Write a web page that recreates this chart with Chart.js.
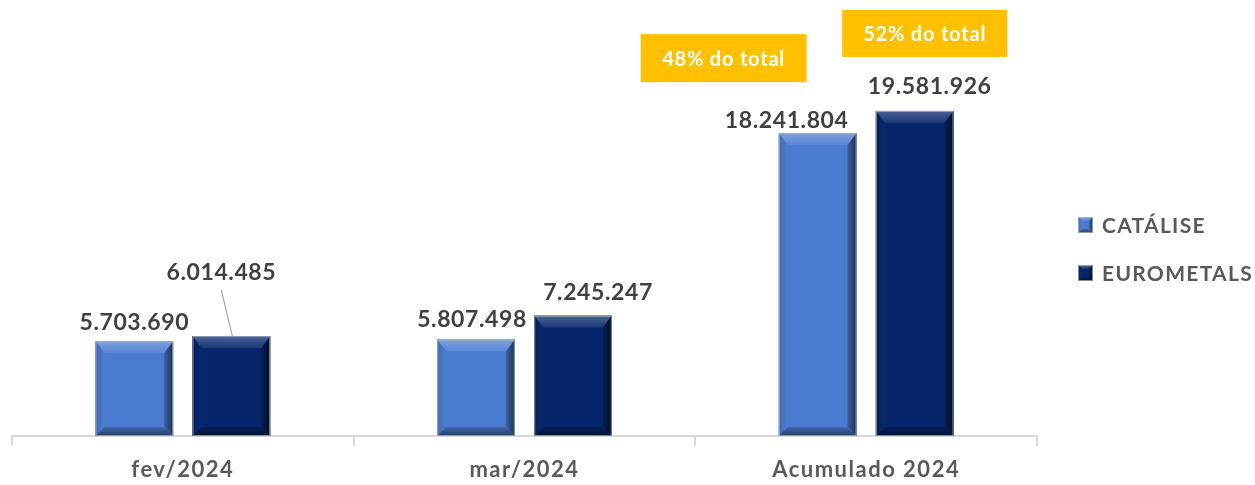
<!DOCTYPE html>
<html><head><meta charset="utf-8">
<style>html,body{margin:0;padding:0;background:#fff}#wrap{width:1255px;height:485px}</style>
<script src="https://cdn.jsdelivr.net/npm/chart.js@4.4.1/dist/chart.umd.min.js"></script>
</head><body><div id="wrap"><canvas id="c" width="1255" height="485"></canvas></div>
<script>
const categories = ['fev/2024', 'mar/2024', 'Acumulado 2024'];
const seriesNames = ['CATÁLISE', 'EUROMETALS'];
const catalise = [5703690, 5807498, 18241804];
const eurometals = [6014485, 7245247, 19581926];
const shareLabels = ['48% do total', '52% do total'];
const seriesColors = ['#4A7BD0', '#06256A'];

function fmt(v){ return v.toLocaleString('de-DE'); }

// label placement: [dx from bar center, gap above bar top, leader line?]
const labelPlacement = [
  [[0,19,false],[-10,64,true]],
  [[-4,20,false],[25,23,false]],
  [[-31,13,false],[15,24,false]]
];

function shade(hex, amt){
  const n = parseInt(hex.slice(1),16);
  let r=(n>>16)&255,g=(n>>8)&255,b=n&255;
  if (amt>=0){ r=r+(255-r)*amt; g=g+(255-g)*amt; b=b+(255-b)*amt; }
  else { r=r*(1+amt); g=g*(1+amt); b=b*(1+amt); }
  return 'rgb('+Math.round(r)+','+Math.round(g)+','+Math.round(b)+')';
}

function bevel(ctx, x0, y0, x1, y1, color, bt, bs){
  ctx.save();
  ctx.fillStyle = color; ctx.fillRect(x0,y0,x1-x0,y1-y0);
  let g = ctx.createLinearGradient(0,y0,0,y0+bt);
  g.addColorStop(0, shade(color,0.28)); g.addColorStop(1, shade(color,0.08));
  ctx.fillStyle=g; ctx.beginPath(); ctx.moveTo(x0,y0); ctx.lineTo(x1,y0); ctx.lineTo(x1-bs,y0+bt); ctx.lineTo(x0+bs,y0+bt); ctx.closePath(); ctx.fill();
  g = ctx.createLinearGradient(x0,0,x0+bs,0);
  g.addColorStop(0, shade(color,-0.15)); g.addColorStop(1, shade(color,0.02));
  ctx.fillStyle=g; ctx.beginPath(); ctx.moveTo(x0,y0); ctx.lineTo(x0+bs,y0+bt); ctx.lineTo(x0+bs,y1-bs); ctx.lineTo(x0,y1); ctx.closePath(); ctx.fill();
  g = ctx.createLinearGradient(x1-bs,0,x1,0);
  g.addColorStop(0, shade(color,-0.2)); g.addColorStop(1, shade(color,-0.6));
  ctx.fillStyle=g; ctx.beginPath(); ctx.moveTo(x1,y0); ctx.lineTo(x1,y1); ctx.lineTo(x1-bs,y1-bs); ctx.lineTo(x1-bs,y0+bt); ctx.closePath(); ctx.fill();
  g = ctx.createLinearGradient(0,y1-bs,0,y1);
  g.addColorStop(0, shade(color,-0.15)); g.addColorStop(1, shade(color,-0.5));
  ctx.fillStyle=g; ctx.beginPath(); ctx.moveTo(x0,y1); ctx.lineTo(x1,y1); ctx.lineTo(x1-bs,y1-bs); ctx.lineTo(x0+bs,y1-bs); ctx.closePath(); ctx.fill();
  ctx.strokeStyle='rgba(190,190,190,0.7)'; ctx.lineWidth=1; ctx.strokeRect(x0+0.5,y0+0.5,x1-x0-1,y1-y0-1);
  ctx.restore();
}

const spacingPlugin = {
  id:'spacing',
  beforeDraw(chart){ chart.ctx.letterSpacing = '1.5px'; },
  beforeDatasetsDraw(chart){ chart.ctx.letterSpacing = '0px'; }
};

const decorPlugin = {
  id:'decor',
  afterDatasetsDraw(chart){
    const ctx = chart.ctx;
    chart.data.datasets.forEach((ds,di)=>{
      chart.getDatasetMeta(di).data.forEach((bar,i)=>{
        const w = bar.width;
        bevel(ctx, bar.x-w/2, bar.y, bar.x+w/2, bar.base, seriesColors[di], 12, 9);
      });
    });
    ctx.save();
    ctx.font = 'bold 23px Lato';
    ctx.letterSpacing = '0.6px';
    ctx.fillStyle = '#404040';
    ctx.textAlign='center'; ctx.textBaseline='middle';
    chart.data.datasets.forEach((ds,di)=>{
      chart.getDatasetMeta(di).data.forEach((bar,i)=>{
        const p = labelPlacement[i][di];
        const tx = bar.x + p[0], ty = bar.y - p[1];
        ctx.fillText(fmt(ds.data[i]), tx, ty);
        if (p[2]){
          ctx.strokeStyle='#a6a6a6'; ctx.lineWidth=1.2;
          ctx.beginPath(); ctx.moveTo(tx, ty+18); ctx.lineTo(bar.x+1, bar.y); ctx.stroke();
        }
      });
    });
    ctx.restore();
    const last = categories.length-1;
    const boxes = [[-94,-75,166,48],[10,-77.5,165,47]];
    ctx.save();
    ctx.font='bold 20px Lato'; ctx.letterSpacing='0.8px'; ctx.textAlign='center'; ctx.textBaseline='middle';
    boxes.forEach((b,di)=>{
      const bar = chart.getDatasetMeta(di).data[last];
      const cx = bar.x + b[0], cy = bar.y + b[1];
      ctx.fillStyle='#FFC000';
      ctx.fillRect(cx-b[2]/2, cy-b[3]/2, b[2], b[3]);
      ctx.fillStyle='#ffffff';
      ctx.fillText(shareLabels[di], cx, cy+1);
    });
    ctx.restore();
    ctx.save();
    ctx.font='bold 21px Lato'; ctx.letterSpacing='1.3px'; ctx.textAlign='left'; ctx.textBaseline='middle';
    seriesNames.forEach((n,di)=>{
      const y = 225 + di*48;
      bevel(ctx, 1078, y-8, 1093, y+8, seriesColors[di], 4, 4);
      ctx.fillStyle='#595959';
      ctx.fillText(n, 1102, y+1);
    });
    ctx.restore();
  }
};

new Chart(document.getElementById('c'), {
  type:'bar',
  data:{
    labels: categories,
    datasets:[
      {label: seriesNames[0], data: catalise, backgroundColor: seriesColors[0]},
      {label: seriesNames[1], data: eurometals, backgroundColor: seriesColors[1]}
    ]
  },
  options:{
    responsive:false, animation:false,
    layout:{padding:{left:12, right:218, top:104, bottom:0}},
    datasets:{bar:{categoryPercentage:0.568, barPercentage:0.8}},
    plugins:{legend:{display:false}, tooltip:{enabled:false}},
    scales:{
      x:{
        afterFit(scale){ scale.height = 49; },
        grid:{drawOnChartArea:false, drawTicks:true, tickLength:10, color:'#d9d9d9', lineWidth:2, offset:true},
        border:{color:'#d9d9d9', width:2},
        ticks:{color:'#595959', font:{family:'Lato', weight:'bold', size:22}, padding:11}
      },
      y:{display:false, min:0, max:20000000}
    }
  },
  plugins:[spacingPlugin, decorPlugin]
});
</script></body></html>
